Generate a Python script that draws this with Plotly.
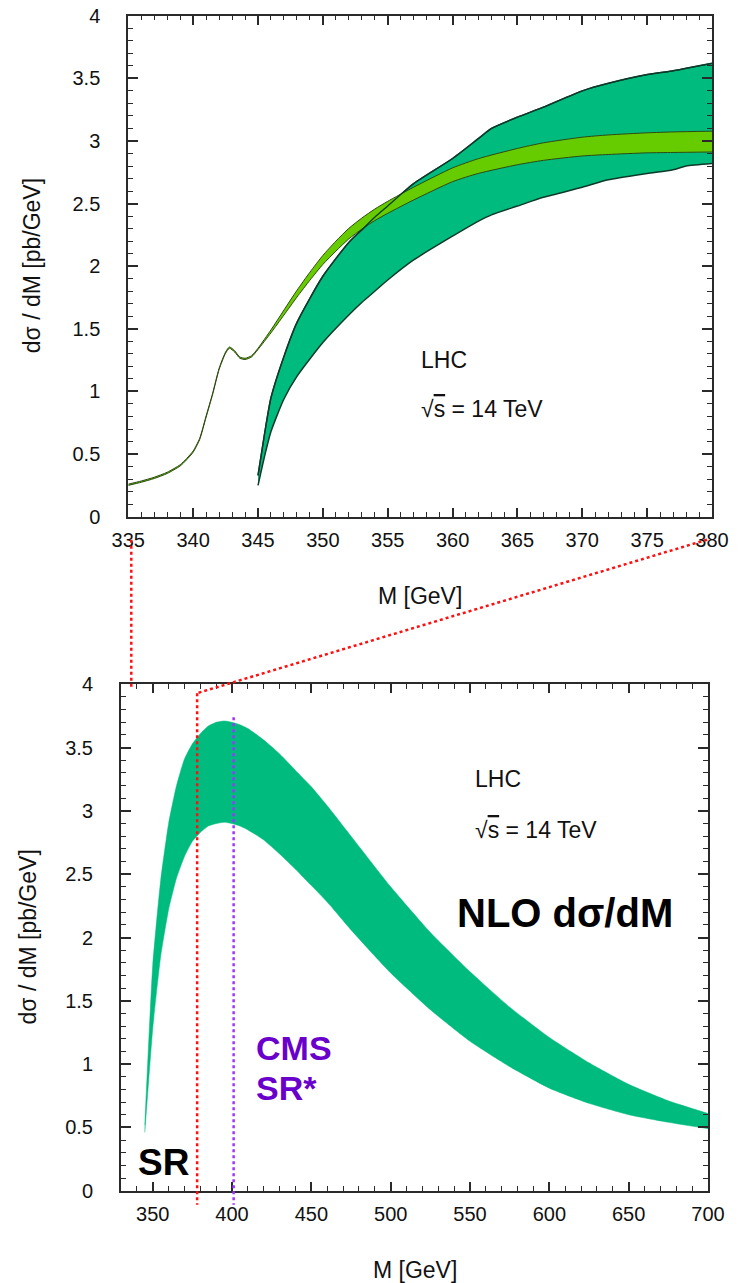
import plotly.graph_objects as go

# ---------------------------------------------------------------------------
# Data: top-pair invariant-mass distribution dsigma/dM [pb/GeV], LHC 14 TeV
# ---------------------------------------------------------------------------

# Threshold zoom (335-380 GeV): NLO scale band (green)
m_zoom_nlo = [345, 345.5, 346, 347, 348, 350, 352, 353, 354, 355, 357, 360, 362,
              363, 365, 367, 370, 372, 375, 377, 378, 380]
nlo_zoom_upper = [0.33, 0.66, 0.95, 1.28, 1.55, 1.92, 2.19, 2.29, 2.39, 2.48, 2.66,
                  2.86, 3.02, 3.10, 3.19, 3.27, 3.40, 3.46, 3.53, 3.56, 3.58, 3.62]
nlo_zoom_lower = [0.25, 0.48, 0.68, 0.94, 1.12, 1.39, 1.61, 1.71, 1.80, 1.89, 2.05,
                  2.24, 2.36, 2.41, 2.48, 2.55, 2.63, 2.69, 2.74, 2.77, 2.80, 2.82]

# Threshold zoom: bound-state-improved prediction (light green band)
m_zoom_bs = [335, 336, 337, 338, 339, 339.5, 340, 340.5, 341, 341.5, 342, 342.5,
             342.8, 343.2, 343.6, 344, 344.5, 345, 346, 347, 348, 349, 350, 351,
             352, 353, 354, 355, 357, 360, 362, 365, 367, 370, 372, 375, 377, 380]
bs_upper = [0.26, 0.285, 0.315, 0.355, 0.415, 0.465, 0.525, 0.625, 0.805, 0.985,
            1.185, 1.315, 1.355, 1.325, 1.275, 1.265, 1.285, 1.345, 1.492, 1.65,
            1.807, 1.952, 2.086, 2.20, 2.302, 2.384, 2.456, 2.518, 2.631, 2.785,
            2.859, 2.94, 2.985, 3.03, 3.048, 3.065, 3.072, 3.078]
bs_lower = [0.25, 0.275, 0.305, 0.345, 0.405, 0.455, 0.515, 0.615, 0.795, 0.975,
            1.175, 1.305, 1.345, 1.315, 1.265, 1.255, 1.275, 1.335, 1.468, 1.61,
            1.753, 1.888, 2.014, 2.12, 2.218, 2.296, 2.364, 2.422, 2.529, 2.675,
            2.741, 2.81, 2.845, 2.88, 2.892, 2.905, 2.908, 2.912]

# Full range (330-700 GeV): NLO scale band
m_full = [345, 350, 355, 360, 365, 370, 375, 380, 385, 390, 395, 400, 405, 410,
          420, 430, 440, 450, 460, 475, 500, 525, 550, 575, 600, 625, 650, 675, 700]
nlo_full_upper = [0.52, 1.78, 2.45, 2.90, 3.20, 3.41, 3.53, 3.61, 3.67, 3.70,
                  3.71, 3.70, 3.68, 3.65, 3.56, 3.45, 3.32, 3.19, 3.04, 2.80,
                  2.40, 2.04, 1.73, 1.45, 1.21, 1.01, 0.84, 0.71, 0.61]
nlo_full_lower = [0.46, 1.28, 1.85, 2.22, 2.47, 2.64, 2.76, 2.83, 2.88, 2.90,
                  2.91, 2.90, 2.88, 2.85, 2.77, 2.66, 2.54, 2.41, 2.28, 2.06,
                  1.72, 1.43, 1.18, 0.98, 0.81, 0.69, 0.60, 0.54, 0.49]

# Axis ranges / markers
zoom_range = [335, 380]
full_range = [330, 700]
y_range = [0, 4]
sr_edge = 378        # signal-region boundary (red dotted)
cms_sr_edge = 401    # CMS signal-region boundary (purple dotted)

# ---------------------------------------------------------------------------
# Layout geometry (pixels on a 741 x 1283 canvas)
# ---------------------------------------------------------------------------
W, H = 741, 1283
TOP_X_PX, TOP_Y_PX = (128.3, 712.0), (15.7, 516.7)
BOT_X_PX, BOT_Y_PX = (121.0, 708.0), (684.3, 1190.7)

def dom_x(px):
    return [px[0] / W, px[1] / W]

def dom_y(py):
    return [1 - py[1] / H, 1 - py[0] / H]

top_xd, top_yd = dom_x(TOP_X_PX), dom_y(TOP_Y_PX)
bot_xd, bot_yd = dom_x(BOT_X_PX), dom_y(BOT_Y_PX)

def to_paper(v, dom, rng):
    return dom[0] + (v - rng[0]) / (rng[1] - rng[0]) * (dom[1] - dom[0])

def py_paper(ypx):
    return 1 - ypx / H

FONT = "Liberation Sans, Arial, Helvetica, sans-serif"
GREEN = "#00bb7e"
LIGHT = "#66cc00"
EDGE = "#0d3a2a"
LEDGE = "#2f4a12"
AX = "#2a2a2a"
RED = "#ff1010"
PURPLE_LINE = "#a033ff"
PURPLE_TEXT = "#6a00cc"

fig = go.Figure()

# --- top panel --------------------------------------------------------------
fig.add_trace(go.Scatter(x=m_zoom_nlo, y=nlo_zoom_lower, mode="lines",
                         line=dict(color=EDGE, width=1.5, shape="spline", smoothing=0.6),
                         xaxis="x", yaxis="y", hoverinfo="skip"))
fig.add_trace(go.Scatter(x=m_zoom_nlo, y=nlo_zoom_upper, mode="lines", fill="tonexty",
                         fillcolor=GREEN,
                         line=dict(color=EDGE, width=1.5, shape="spline", smoothing=0.6),
                         xaxis="x", yaxis="y", hoverinfo="skip"))
fig.add_trace(go.Scatter(x=m_zoom_bs, y=bs_lower, mode="lines",
                         line=dict(color=LEDGE, width=1, shape="spline", smoothing=0.6),
                         xaxis="x", yaxis="y", hoverinfo="skip"))
fig.add_trace(go.Scatter(x=m_zoom_bs, y=bs_upper, mode="lines", fill="tonexty",
                         fillcolor=LIGHT,
                         line=dict(color=LEDGE, width=1, shape="spline", smoothing=0.6),
                         xaxis="x", yaxis="y", hoverinfo="skip"))
fig.add_trace(go.Scatter(x=m_zoom_nlo, y=nlo_zoom_upper, mode="lines",
                         line=dict(color=EDGE, width=1.3, shape="spline", smoothing=0.6),
                         xaxis="x", yaxis="y", hoverinfo="skip"))

# --- bottom panel -----------------------------------------------------------
fig.add_trace(go.Scatter(x=m_full, y=nlo_full_lower, mode="lines",
                         line=dict(color=GREEN, width=0.5, shape="spline", smoothing=0.5),
                         xaxis="x2", yaxis="y2", hoverinfo="skip"))
fig.add_trace(go.Scatter(x=m_full, y=nlo_full_upper, mode="lines", fill="tonexty",
                         fillcolor=GREEN,
                         line=dict(color=GREEN, width=0.5, shape="spline", smoothing=0.5),
                         xaxis="x2", yaxis="y2", hoverinfo="skip"))

def xaxis_cfg(dom, rng, dtick, minor_dtick, anchor):
    return dict(domain=dom, range=rng, anchor=anchor, dtick=dtick, tick0=0,
                automargin=False,
                ticks="inside", ticklen=9, tickwidth=1.5, tickcolor=AX,
                minor=dict(dtick=minor_dtick, ticks="inside", ticklen=4.5,
                           tickwidth=1.2, tickcolor=AX),
                showline=True, linecolor=AX, linewidth=2, mirror="ticks",
                showgrid=False, zeroline=False, fixedrange=True,
                tickfont=dict(family=FONT, size=20, color="#111"),
                ticklabelstandoff=4)

def yaxis_cfg(dom, anchor):
    return dict(domain=dom, range=y_range, anchor=anchor, dtick=0.5, tick0=0,
                automargin=False,
                ticks="inside", ticklen=10, tickwidth=1.5, tickcolor=AX,
                minor=dict(dtick=0.1, ticks="inside", ticklen=5,
                           tickwidth=1.2, tickcolor=AX),
                showline=True, linecolor=AX, linewidth=2, mirror="ticks",
                showgrid=False, zeroline=False, fixedrange=True,
                tickfont=dict(family=FONT, size=20, color="#111"),
                ticklabelstandoff=22)

fig.update_layout(
    width=W, height=H, margin=dict(l=0, r=0, t=0, b=0, autoexpand=False),
    paper_bgcolor="white", plot_bgcolor="white", showlegend=False,
    xaxis=xaxis_cfg(top_xd, zoom_range, 5, 1, "y"),
    yaxis=yaxis_cfg(top_yd, "x"),
    xaxis2=xaxis_cfg(bot_xd, full_range, 50, 10, "y2"),
    yaxis2=yaxis_cfg(bot_yd, "x2"),
)

# --- zoom connectors and region boundaries (dotted) -------------------------
red_line = dict(color=RED, width=2.5, dash="3px,3px")
conn_top_y = py_paper(TOP_Y_PX[1] + 23)
shapes = [
    # left connector: 335 GeV on both panels
    dict(type="line", xref="paper", yref="paper",
         x0=to_paper(zoom_range[0], top_xd, zoom_range) + 3 / W, y0=conn_top_y,
         x1=to_paper(zoom_range[0], top_xd, zoom_range) + 3 / W,
         y1=to_paper(3.97, bot_yd, y_range), line=red_line),
    # right connector: top-panel edge to the SR boundary
    dict(type="line", xref="paper", yref="paper",
         x0=to_paper(zoom_range[1], top_xd, zoom_range) - 5 / W, y0=conn_top_y,
         x1=to_paper(sr_edge, bot_xd, full_range),
         y1=to_paper(3.93, bot_yd, y_range), line=red_line),
    # SR boundary
    dict(type="line", xref="paper", yref="paper",
         x0=to_paper(sr_edge, bot_xd, full_range), y0=to_paper(3.93, bot_yd, y_range),
         x1=to_paper(sr_edge, bot_xd, full_range), y1=to_paper(-0.11, bot_yd, y_range),
         line=red_line),
    # CMS SR boundary
    dict(type="line", xref="paper", yref="paper",
         x0=to_paper(cms_sr_edge, bot_xd, full_range), y0=to_paper(3.74, bot_yd, y_range),
         x1=to_paper(cms_sr_edge, bot_xd, full_range), y1=to_paper(-0.11, bot_yd, y_range),
         line=dict(color=PURPLE_LINE, width=2.5, dash="3px,3px")),
]
fig.update_layout(shapes=shapes)

# --- text -------------------------------------------------------------------
def label(text, x, y, xref, yref, size, color="#111", bold=False, xanchor="left",
          angle=0):
    fig.add_annotation(text=f"<b>{text}</b>" if bold else text, x=x, y=y,
                       xref=xref, yref=yref, showarrow=False, xanchor=xanchor,
                       yanchor="middle", textangle=angle,
                       font=dict(family=FONT, size=size, color=color))

sqrt_s = "√<span style='text-decoration:overline'>s</span> = 14 TeV"
ytitle = "dσ / dM [pb/GeV]"

# top panel
label("LHC", 357.4, 1.25, "x", "y", 23)
label(sqrt_s, 357.4, 0.86, "x", "y", 23)
label("M [GeV]", (top_xd[0] + top_xd[1]) / 2, py_paper(595.6), "paper", "paper", 23,
      xanchor="center")
label(ytitle, 32 / W, (top_yd[0] + top_yd[1]) / 2, "paper", "paper", 23,
      xanchor="center", angle=-90)

# bottom panel
label("LHC", 551.6, 3.25, "x2", "y2", 23)
label(sqrt_s, 551.6, 2.85, "x2", "y2", 23)
label("NLO dσ/dM", 540.4, 2.19, "x2", "y2", 40, color="#000", bold=True)
label("CMS", 414, 1.13, "x2", "y2", 34, color=PURPLE_TEXT, bold=True)
label("SR*", 414, 0.81, "x2", "y2", 34, color=PURPLE_TEXT, bold=True)
label("SR", 339.4, 0.22, "x2", "y2", 37, color="#000", bold=True)
label("M [GeV]", (bot_xd[0] + bot_xd[1]) / 2, py_paper(1270), "paper", "paper", 23,
      xanchor="center")
label(ytitle, 27 / W, (bot_yd[0] + bot_yd[1]) / 2, "paper", "paper", 23,
      xanchor="center", angle=-90)

fig.write_html("out.html")
